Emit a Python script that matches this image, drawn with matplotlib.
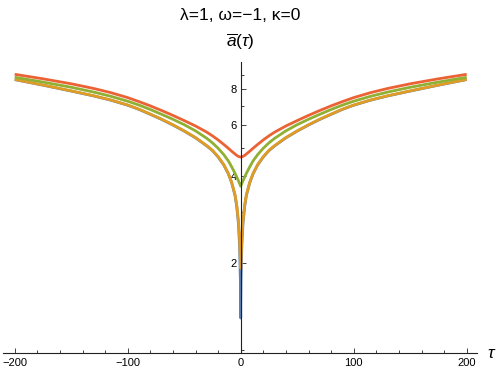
import matplotlib
matplotlib.use("Agg")
import matplotlib.pyplot as plt
from matplotlib.ticker import FixedLocator, FixedFormatter, NullFormatter

plt.rcParams['font.family'] = ['Liberation Sans', 'DejaVu Sans']
plt.rcParams['mathtext.fontset'] = 'custom'
plt.rcParams['mathtext.rm'] = 'Liberation Sans'
plt.rcParams['mathtext.it'] = 'Liberation Sans:italic'

# tau >= 0 sample points (curves are symmetric in tau)
tau_half = [0, 0.3, 1, 2, 3.5, 5, 8, 11, 15, 20, 25, 30, 40, 50, 60, 70, 80, 90, 100, 115, 130, 150, 175, 200]
blue_half = [1.29, 1.75, 2.30, 2.74, 3.14, 3.43, 3.80, 4.085, 4.379, 4.668, 4.909, 5.097, 5.438, 5.737, 6.023, 6.298,
             6.559, 6.822, 7.054, 7.345, 7.595, 7.898, 8.278, 8.656]
orange_half = [1.92, 2.05, 2.45, 2.80, 3.18, 3.45, 3.813, 4.097, 4.391, 4.680, 4.921, 5.109, 5.450, 5.749, 6.035, 6.310,
               6.571, 6.834, 7.066, 7.357, 7.607, 7.910, 8.290, 8.668]
green_half = [3.694, 3.718, 3.776, 3.857, 3.975, 4.094, 4.315, 4.526, 4.755, 5.004, 5.224, 5.415, 5.749, 6.040, 6.305, 6.561,
              6.817, 7.061, 7.283, 7.576, 7.834, 8.140, 8.487, 8.815]
red_half = [4.665, 4.666, 4.672, 4.688, 4.725, 4.778, 4.886, 5.004, 5.158, 5.347, 5.524, 5.689, 5.977, 6.240, 6.504, 6.763,
            7.018, 7.260, 7.495, 7.800, 8.062, 8.370, 8.710, 9.028]


def mirror(t, v):
    return [-x for x in t[:0:-1]] + list(t), list(v[:0:-1]) + list(v)


series = [
    ("#5E81B5", blue_half),
    ("#E19C24", orange_half),
    ("#8FB032", green_half),
    ("#EB6235", red_half),
]

W, H = 498, 374
fig = plt.figure(figsize=(W / 100, H / 100), dpi=100)
left_px, right_px = 3, 477
bot_px, top_px = 352.5, 61.5
ax = fig.add_axes([left_px / W, (H - bot_px) / H, (right_px - left_px) / W, (bot_px - top_px) / H])

for color, vals in series:
    t, v = mirror(tau_half, vals)
    ax.plot(t, v, color=color, lw=2.0, solid_capstyle='butt', solid_joinstyle='round')

ax.set_yscale('log')
x0 = -(240.7 - left_px) / 1.13
x1 = (right_px - 240.7) / 1.13
ax.set_xlim(x0, x1)
ax.set_ylim(0.98, 10.0)

ax.spines['top'].set_visible(False)
ax.spines['right'].set_visible(False)
ax.spines['left'].set_position(('data', 0))
for s in ('left', 'bottom'):
    ax.spines[s].set_linewidth(0.8)
    ax.spines[s].set_color('#222222')

ax.yaxis.set_major_locator(FixedLocator([2, 4, 6, 8]))
ax.yaxis.set_major_formatter(FixedFormatter(['2', '4', '6', '8']))
ax.yaxis.set_minor_locator(FixedLocator([1, 3, 5, 7, 9]))
ax.yaxis.set_minor_formatter(NullFormatter())
ax.xaxis.set_major_locator(FixedLocator([-200, -100, 0, 100, 200]))
ax.xaxis.set_minor_locator(FixedLocator([x for x in range(-180, 200, 20) if x % 100 != 0]))

ax.tick_params(axis='both', which='major', direction='in', length=3.5, width=0.6, colors='#222222', labelsize=8, labelcolor='black')
ax.tick_params(axis='both', which='minor', direction='in', length=2, width=0.6, colors='#222222')
ax.tick_params(axis='x', which='major', pad=4)
ax.tick_params(axis='y', which='major', pad=3)

fig.text(240 / W, 1 - 16 / H, "λ=1, ω=−1, κ=0", ha='center', va='center', fontsize=12.5)
fig.text(240 / W, 1 - 42 / H, r"$\overline{a}(\tau)$", ha='center', va='center', fontsize=12.5)
fig.text(492 / W, 1 - 354 / H, r"$\tau$", ha='center', va='center', fontsize=12.5)

fig.savefig("out.png", dpi=100)
